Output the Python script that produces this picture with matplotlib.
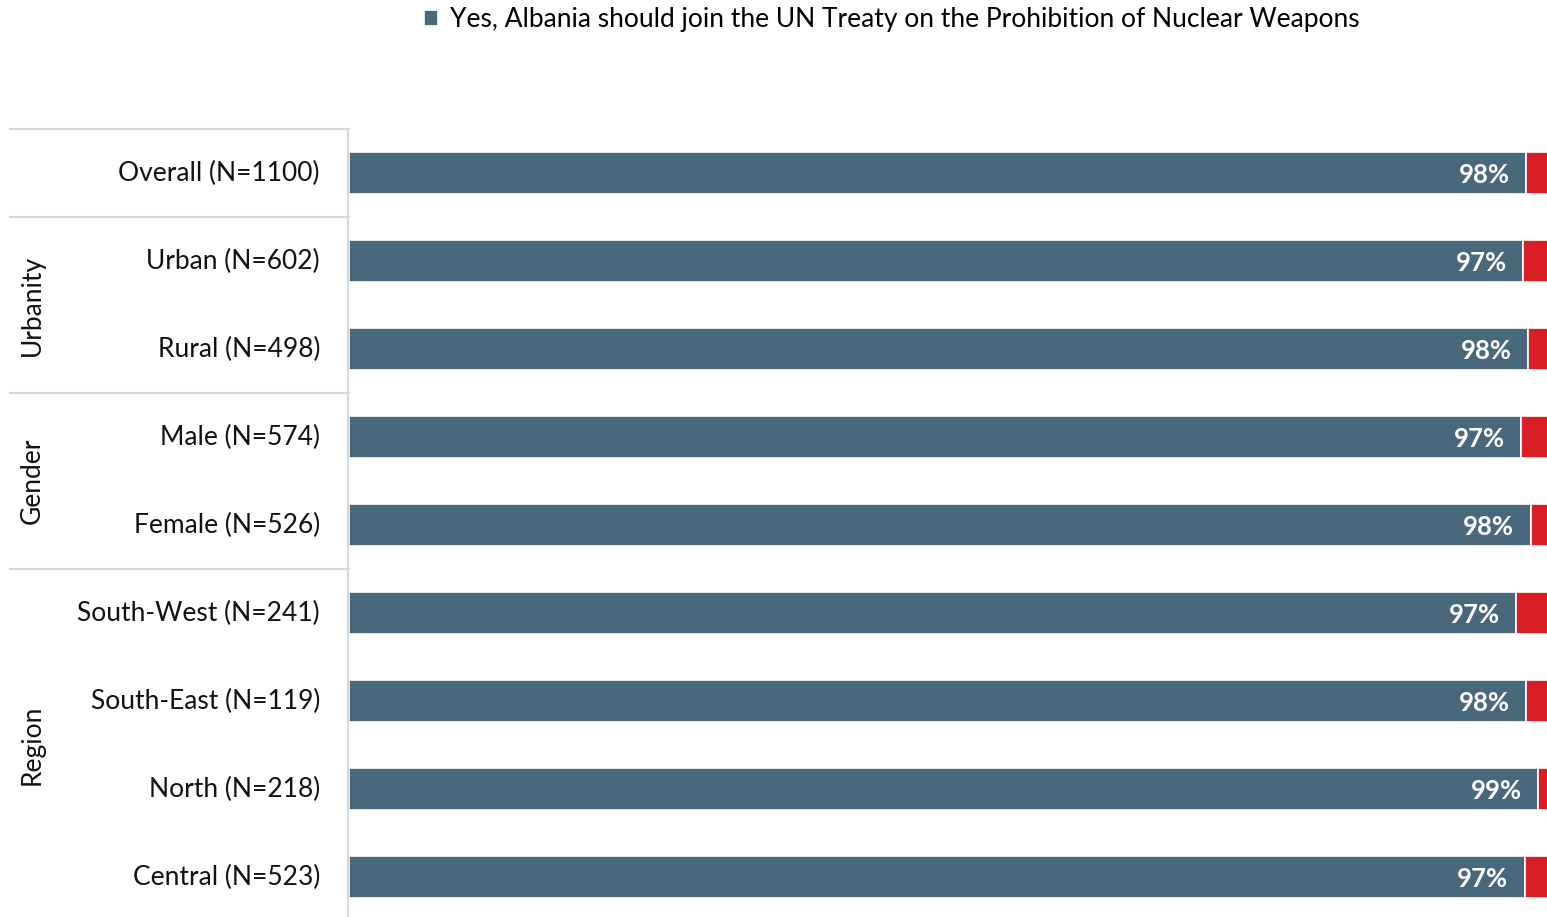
import matplotlib
matplotlib.use('Agg')
import matplotlib.pyplot as plt
from matplotlib.lines import Line2D

# data (share of "Yes", in percent)
categories = ['Overall (N=1100)', 'Urban (N=602)', 'Rural (N=498)',
              'Male (N=574)', 'Female (N=526)', 'South-West (N=241)',
              'South-East (N=119)', 'North (N=218)', 'Central (N=523)']
yes_values = [97.5, 97.3, 97.7, 97.1, 97.9, 96.7, 97.5, 98.5, 97.4]
yes_labels = ['98%', '97%', '98%', '97%', '98%', '97%', '98%', '99%', '97%']
no_values = [100 - v for v in yes_values]

groups = ['Urbanity', 'Gender', 'Region']
group_rows = [(1, 2), (3, 4), (5, 8)]

BLUE = '#4a687c'
RED = '#da1f26'
GRID = '#d9d9d9'

plt.rcParams['font.family'] = ['Lato', 'DejaVu Sans']

W, H = 1547, 917
fig = plt.figure(figsize=(W / 100, H / 100), dpi=100)

# axes placed in pixel terms (runs a little past the right and bottom edges)
ax_left, ax_right, ax_top, ax_bot = 349, 1556, 129, 921
ax = fig.add_axes([ax_left / W, 1 - ax_bot / H,
                   (ax_right - ax_left) / W, (ax_bot - ax_top) / H])

y = list(range(len(categories)))
ax.barh(y, yes_values, height=0.48, color=BLUE, edgecolor='white', linewidth=1.2,
        label='Yes, Albania should join the UN Treaty on the Prohibition of Nuclear Weapons')
ax.barh(y, no_values, left=yes_values, height=0.48, color=RED,
        edgecolor='white', linewidth=1.2)

for i, (v, lab) in enumerate(zip(yes_values, yes_labels)):
    ax.text(v - 1.35, i + 0.02, lab, ha='right', va='center', color='white',
            fontsize=18.5, fontweight='bold')

ax.set_xlim(0, 100)
ax.set_ylim(len(categories) - 0.5, -0.5)
ax.axis('off')

# category labels
for i, c in enumerate(categories):
    ax.annotate(c, xy=(0, i), xycoords='data', xytext=(-29, 0),
                textcoords='offset pixels', ha='right', va='center',
                fontsize=19, color='#111111')

# table lines on the left
step = (ax_bot - ax_top) / len(categories)
edge_y = lambda row: 1 - (ax_top + (row + 1) * step) / H      # line below a row
mid_y = lambda row: 1 - (ax_top + (row + 0.5) * step) / H     # centre of a row

fig.add_artist(Line2D([ax_left / W - 0.0005] * 2, [1 - ax_top / H, 0],
                      color=GRID, lw=1.5))
for row in [-1, 0, 2, 4]:
    fig.add_artist(Line2D([10 / W, ax_left / W], [edge_y(row)] * 2,
                          color=GRID, lw=1.5))

for g, (a, b) in zip(groups, group_rows):
    yc = (mid_y(a) + mid_y(b)) / 2
    fig.text(32 / W, yc, g, rotation=90, ha='center', va='center',
             fontsize=19, color='#111111')

leg = fig.legend(loc='center left', bbox_to_anchor=(413 / W, 1 - 20 / H),
                 frameon=False, fontsize=19, handlelength=0.55, handleheight=0.55,
                 handletextpad=0.45, borderaxespad=0)

fig.savefig('out.png', dpi=100)
